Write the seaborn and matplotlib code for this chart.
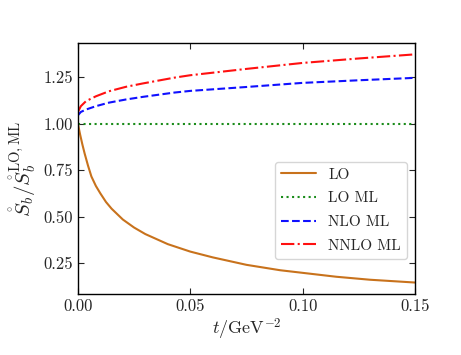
import numpy as np
import pandas as pd
import matplotlib
matplotlib.use("Agg")
import matplotlib.pyplot as plt
import seaborn as sns

# Data
t_lo = [0.0, 0.0005, 0.001, 0.002, 0.003, 0.0045, 0.006, 0.008, 0.01, 0.0125,
        0.015, 0.02, 0.025, 0.03, 0.04, 0.05, 0.06, 0.075, 0.09, 0.1, 0.115,
        0.13, 0.15]
lo = [1.0, 0.969, 0.94, 0.887, 0.839, 0.774, 0.716, 0.665, 0.625, 0.579,
      0.543, 0.485, 0.442, 0.407, 0.353, 0.313, 0.282, 0.242, 0.213, 0.199,
      0.178, 0.162, 0.147]
t_ml = [0.0, 0.0013, 0.0036, 0.008, 0.0138, 0.0214, 0.0289, 0.0429, 0.05,
        0.075, 0.1, 0.125, 0.15]
lo_ml = [1.0] * len(t_ml)
nlo_ml = [1.044, 1.062, 1.075, 1.093, 1.112, 1.129, 1.143, 1.166, 1.175,
          1.196, 1.218, 1.232, 1.245]
nnlo_ml = [1.062, 1.093, 1.12, 1.146, 1.173, 1.197, 1.215, 1.246, 1.259,
           1.293, 1.325, 1.349, 1.371]
labels = ["LO", "LO ML", "NLO ML", "NNLO ML"]
xticks = [0.00, 0.05, 0.10, 0.15]
yticks = [0.25, 0.50, 0.75, 1.00, 1.25]

sns.set_style("ticks")
plt.rcParams.update({
    "font.family": "serif",
    "font.serif": ["cmr10"],
    "mathtext.fontset": "cm",
    "axes.formatter.use_mathtext": True,
    "font.size": 11,
    "axes.unicode_minus": False,
})

fig, ax = plt.subplots(figsize=(4.61, 3.55), dpi=100)
fig.subplots_adjust(left=0.169, right=0.900, bottom=0.172, top=0.879)

series = [(t_lo, lo), (t_ml, lo_ml), (t_ml, nlo_ml), (t_ml, nnlo_ml)]
colors = ["#c8721c", "#1a8c1a", "#1010ff", "#ff1010"]
styles = ["-", ":", "--", "-."]
for (xs, ys), lab, c, ls in zip(series, labels, colors, styles):
    df = pd.DataFrame({"t": xs, "v": ys})
    sns.lineplot(data=df, x="t", y="v", ax=ax, color=c, linestyle=ls,
                 linewidth=1.5, label=lab)

ax.set_xlim(0, 0.15)
ax.set_xticks(xticks)
ax.set_xticklabels([f"{v:.2f}" for v in xticks])
ax.set_yticks(yticks)
ax.set_yticklabels([f"{v:.2f}" for v in yticks])
ax.tick_params(direction="in", top=True, right=True, labelsize=12, length=4)
ax.set_xlabel(r"$t/\mathrm{GeV}^{-2}$", fontsize=13, labelpad=2)
ax.set_ylabel(r"$\mathring{S}_b/\mathring{S}_b^{\mathrm{LO,ML}}$", fontsize=15)
for s in ax.spines.values():
    s.set_color("black")
    s.set_linewidth(1.0)
ax.legend(loc="lower right", bbox_to_anchor=(1.0, 0.11), fontsize=11,
          frameon=True, borderaxespad=0.5, handlelength=2.3, labelspacing=0.65)

fig.savefig("out.png", dpi=100)
